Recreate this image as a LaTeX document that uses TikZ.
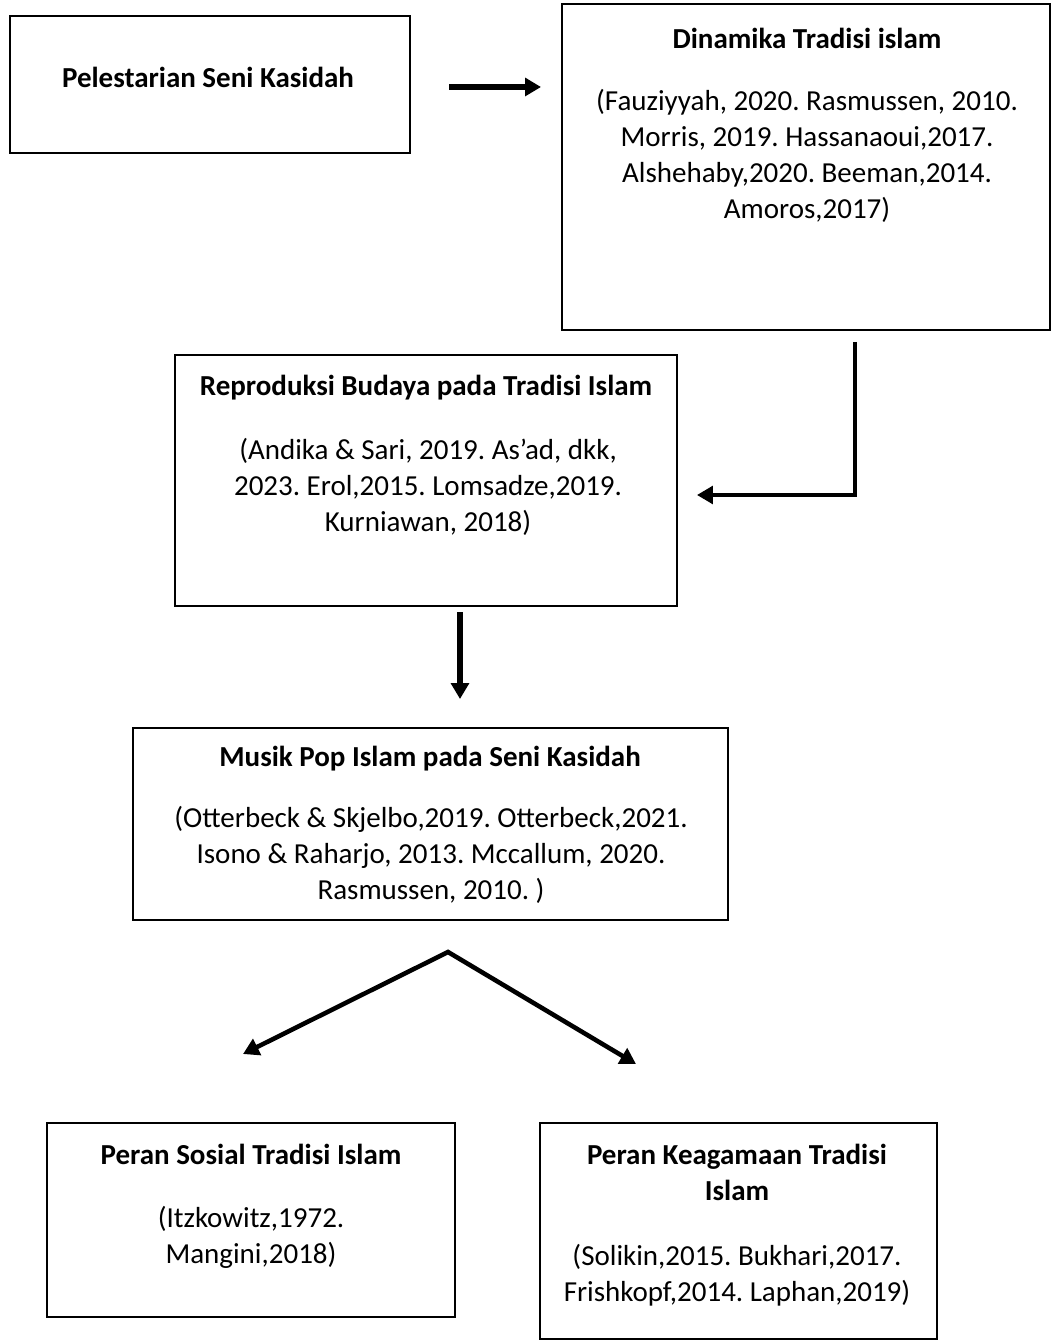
\documentclass[tikz,border=0pt]{standalone}
\usepackage{fontspec}
\setmainfont{Carlito}
\frenchspacing
\usetikzlibrary{calc, positioning}
\usetikzlibrary{arrows.meta}
\def\lw{1.4pt}
\def\px{0.02cm}
\tikzset{
    border/.style = {
        draw, rectangle, line width=\lw, inner sep=0pt, outer sep=0pt
    },
    heading/.style = {
        align=center, font=\fontsize{16.5}{20.5}\selectfont\bfseries
    },
    refs/.style = {
        align=center, font=\fontsize{16.5}{20.5}\selectfont
    }
}

\begin{document}
\begin{tikzpicture}[x=\px, y=-\px]
    \useasboundingbox (0,0) rectangle (1052,1344);
    % Place the blocks
    \node [border, minimum width=400*\px, minimum height=137*\px] (pel) at (210,84.5) {};
    \node [border, minimum width=488*\px, minimum height=326*\px] (din) at (806,167) {};
    \node [border, minimum width=502*\px, minimum height=251*\px] (rep) at (426,480.5) {};
    \node [border, minimum width=595*\px, minimum height=192*\px] (mus) at (430.5,824) {};
    \node [border, minimum width=408*\px, minimum height=194*\px] (sos) at (251,1220) {};
    \node [border, minimum width=397*\px, minimum height=216*\px] (kea) at (738.5,1231) {};
    % Texts of the blocks
    \node [heading] (pel-title) at (208,77) {Pelestarian Seni Kasidah};
    \node [heading] (din-title) at (807,38) {Dinamika Tradisi islam};
    \node [refs] (din-refs) at (807,156) {(Fauziyyah, 2020. Rasmussen, 2010.\\Morris, 2019. Hassanaoui,2017.\\Alshehaby,2020. Beeman,2014.\\Amoros,2017)};
    \node [heading] (rep-title) at (426,388) {Reproduksi Budaya pada Tradisi Islam};
    \node [refs] (rep-refs) at (428,487) {(Andika \& Sari, 2019. As’ad, dkk,\\2023. Erol,2015. Lomsadze,2019.\\Kurniawan, 2018)};
    \node [heading] (mus-title) at (430,759) {Musik Pop Islam pada Seni Kasidah};
    \node [refs] (mus-refs) at (431,855) {(Otterbeck \& Skjelbo,2019. Otterbeck,2021.\\Isono \& Raharjo, 2013. Mccallum, 2020.\\Rasmussen, 2010. )};
    \node [heading] (sos-title) at (251,1154) {Peran Sosial Tradisi Islam};
    \node [refs] (sos-refs) at (251,1237) {(Itzkowitz,1972.\\Mangini,2018)};
    \node [heading] (kea-title) at (737,1172) {Peran Keagamaan Tradisi\\Islam};
    \node [refs] (kea-refs) at (737,1275) {(Solikin,2015. Bukhari,2017.\\Frishkopf,2014. Laphan,2019)};
    % Arrows
    \coordinate (fork) at ([xshift=0.35cm, yshift=-0.64cm] mus.south);
    \coordinate (sos-tip) at (243,1054);
    \coordinate (kea-tip) at (636,1064);
    \begin{scope}[>={Triangle[width=10pt,length=9pt]}]
        \draw[line width=3.2pt, ->] ([xshift=0.78cm, yshift=-0.05cm] pel.east) -- ++(92,0);
        \draw[line width=2pt, ->] ([xshift=0.98cm, yshift=-0.24cm] din.south) |- ([xshift=0.4cm, yshift=-0.29cm] rep.east);
        \draw[line width=3.2pt, ->] ([xshift=0.68cm, yshift=-0.12cm] rep.south) -- ++(0,87);
        \draw[line width=2.6pt, <->] (sos-tip) -- (fork) -- (kea-tip);
    \end{scope}
\end{tikzpicture}
\end{document}
